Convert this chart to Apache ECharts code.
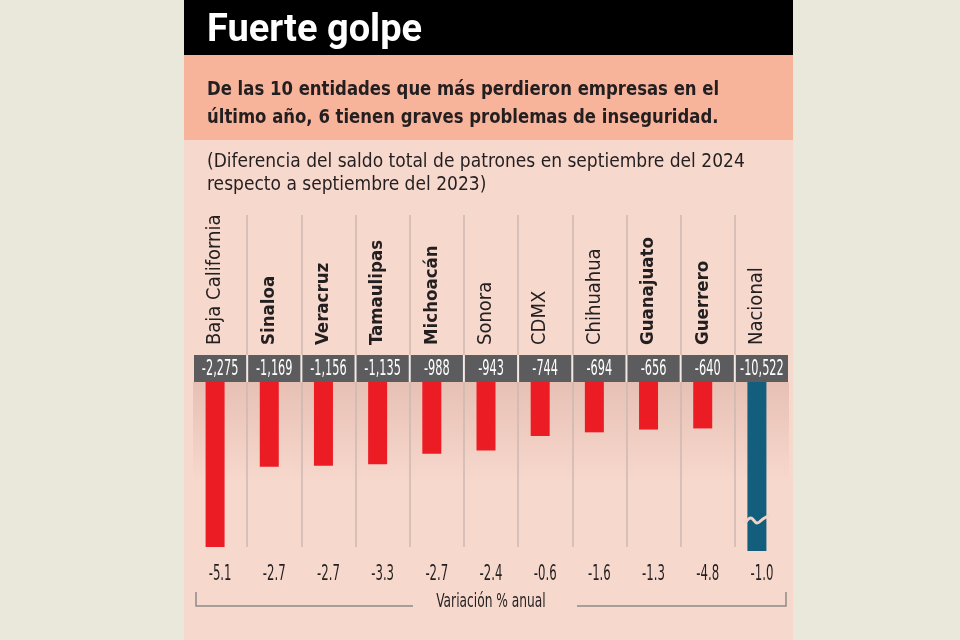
<!DOCTYPE html>
<html><head><meta charset="utf-8">
<script src="https://cdn.jsdelivr.net/npm/echarts@6/dist/echarts.min.js"></script>
<style>html,body{margin:0;padding:0;background:#e9e8da}#c{width:960px;height:640px}</style>
</head><body><div id="c"></div>
<script>
// ---- data ----
const categories = ['Baja California','Sinaloa','Veracruz','Tamaulipas','Michoacán','Sonora','CDMX','Chihuahua','Guanajuato','Guerrero','Nacional'];
const boldStates = ['Sinaloa','Veracruz','Tamaulipas','Michoacán','Guanajuato','Guerrero'];
const patronDiff = [-2275,-1169,-1156,-1135,-988,-943,-744,-694,-656,-640,-10522];
const annualVariation = [-5.1,-2.7,-2.7,-3.3,-2.7,-2.4,-0.6,-1.6,-1.3,-4.8,-1.0];
const titleText = 'Fuerte golpe';
const subtitleLines = ['De las 10 entidades que más perdieron empresas en el','último año, 6 tienen graves problemas de inseguridad.'];
const noteLines = ['(Diferencia del saldo total de patrones en septiembre del 2024','respecto a septiembre del 2023)'];
const axisTitle = 'Variación % anual';
const nationalName = 'Nacional';

// ---- styling ----
const NARROW = '"DejaVu Sans Condensed","DejaVu Sans",sans-serif';
const DARK = '#231f20';
const RED = '#ec1c24';
const TEAL = '#135e7c';
const SEP = '#cbb8b0';
const colGrid = {left:193, width:596};
const barGrid = {left:188, width:596};
const BAR_AXIS_MIN = -2330; // axis is broken: Nacional bar is clipped
const BAND_TOP = 355, BAND_H = 27;
const VAR_Y = 575;

function fmt(n){ return n.toLocaleString('en-US'); }

const chart = echarts.init(document.getElementById('c'), null, {renderer:'canvas'});

function catAxis(gridIndex, extra){
  return Object.assign({
    type:'category', gridIndex, data:categories, boundaryGap:true,
    axisLine:{show:false}, axisTick:{show:false}, axisLabel:{show:false},
    splitLine:{show:false}
  }, extra);
}
function valAxis(gridIndex, extra){
  return Object.assign({type:'value', gridIndex, show:false, min:0, max:1}, extra);
}
const sepLine = {show:true, interval:0, showMinLine:false, showMaxLine:false, lineStyle:{color:SEP, width:1.5}};

function bandItem(params, api){
  const x = api.coord([api.value(0), 0])[0];
  const w = api.size([1, 0])[0];
  return {type:'group', children:[
    {type:'rect', shape:{x:x - w/2 + 1, y:BAND_TOP, width:w - 2, height:BAND_H}, style:{fill:'#5c5c5e'}},
    {type:'text', x:x, y:BAND_TOP + BAND_H/2 + 1, scaleX:0.6,
      style:{text:fmt(api.value(1)), fill:'#ffffff', font:'21px ' + NARROW, align:'center', verticalAlign:'middle'}}
  ]};
}
function varItem(params, api){
  const x = api.coord([api.value(0), 0])[0];
  return {type:'text', x:x, y:VAR_Y, scaleX:0.62,
    style:{text:api.value(1).toFixed(1), fill:DARK, font:'21px ' + NARROW, align:'center', verticalAlign:'middle'}};
}

const option = {
  backgroundColor:'#e9e8da',
  animation:false,
  grid:[
    Object.assign({top:215, height:140}, colGrid),
    Object.assign({top:382, height:165}, colGrid),
    Object.assign({top:382, height:169}, barGrid),
    Object.assign({top:347, height:1}, barGrid),
    Object.assign({top:382, height:1}, colGrid),
    Object.assign({top:555, height:1}, colGrid)
  ],
  xAxis:[
    catAxis(0,{splitLine:sepLine}),
    catAxis(1,{splitLine:sepLine}),
    catAxis(2),
    catAxis(3,{position:'top', axisLabel:{show:true, interval:0, rotate:90, margin:2,
      formatter:(v)=> boldStates.indexOf(v) >= 0 ? '{b|'+v+'}' : '{r|'+v+'}',
      rich:{
        b:{fontFamily:NARROW, fontSize:18.5, fontWeight:'bold', color:DARK},
        r:{fontFamily:NARROW, fontSize:20, color:DARK}
      }}}),
    catAxis(4),
    catAxis(5)
  ],
  yAxis:[
    valAxis(0), valAxis(1),
    valAxis(2,{min:BAR_AXIS_MIN, max:0}),
    valAxis(3), valAxis(4), valAxis(5)
  ],
  series:[{
    type:'bar', xAxisIndex:2, yAxisIndex:2, barWidth:19, clip:true,
    data: patronDiff.map((v,i)=>({value:v, itemStyle:{color: categories[i]===nationalName ? TEAL : RED}}))
  },{
    type:'custom', xAxisIndex:4, yAxisIndex:4, renderItem:bandItem, clip:false, z:5,
    data: patronDiff.map((v,i)=>[i, v])
  },{
    type:'custom', xAxisIndex:5, yAxisIndex:5, renderItem:varItem, clip:false, z:5,
    data: annualVariation.map((v,i)=>[i, v])
  }]
};
chart.setOption(option);

// ---- decorations ----
const natIdx = categories.indexOf(nationalName);
const p = chart.convertToPixel({xAxisIndex:2, yAxisIndex:2}, [natIdx, BAR_AXIS_MIN]);
const cx = p[0], cy = p[1] - 31;

const graphics = [
  {type:'rect', z:-10, shape:{x:184, y:0, width:609, height:55}, style:{fill:'#000000'}},
  {type:'rect', z:-10, shape:{x:184, y:55, width:609, height:85}, style:{fill:'#f8b39b'}},
  {type:'rect', z:-10, shape:{x:184, y:140, width:609, height:500}, style:{fill:'#f7d8cd'}},
  {type:'rect', z:-8, shape:{x:193, y:382, width:596, height:100},
    style:{fill:new echarts.graphic.LinearGradient(0,0,0,1,[
      {offset:0, color:'rgba(190,130,115,0.28)'},{offset:1, color:'rgba(190,130,115,0)'}])}},
  {type:'rect', z:-7, shape:{x:194, y:BAND_TOP, width:594, height:BAND_H}, style:{fill:'#f3e9e5'}},
  {type:'text', z:5, x:207, y:31, style:{text:titleText, fill:'#ffffff', font:'bold 38px Roboto', textVerticalAlign:'middle'}},
  {type:'text', z:5, x:207, y:90, scaleX:0.94, style:{text:subtitleLines[0], fill:DARK, font:'bold 19.5px '+NARROW, textVerticalAlign:'middle'}},
  {type:'text', z:5, x:207, y:118, scaleX:0.94, style:{text:subtitleLines[1], fill:DARK, font:'bold 19.5px '+NARROW, textVerticalAlign:'middle'}},
  {type:'text', z:5, x:207, y:162, style:{text:noteLines[0], fill:DARK, font:'19px '+NARROW, textVerticalAlign:'middle'}},
  {type:'text', z:5, x:207, y:185, style:{text:noteLines[1], fill:DARK, font:'19px '+NARROW, textVerticalAlign:'middle'}},
  {type:'text', z:5, x:491, y:602, scaleX:0.68, style:{text:axisTitle, fill:DARK, font:'20px '+NARROW, textAlign:'center', textVerticalAlign:'middle'}},
  {type:'polyline', z:5, shape:{points:[[196,592],[196,606],[413,606]]}, style:{stroke:'#8f8a88', lineWidth:1.5, fill:null}},
  {type:'polyline', z:5, shape:{points:[[577,606],[786,606],[786,592]]}, style:{stroke:'#8f8a88', lineWidth:1.5, fill:null}},
  {type:'polyline', z:10, shape:{smooth:0.4, points:[[cx-12,cy+3],[cx-6,cy-2],[cx,cy+3],[cx+6,cy-1],[cx+13,cy-5]]},
    style:{stroke:'#f4d2c6', lineWidth:3, fill:null}}
];
chart.setOption({graphic:graphics});
</script>
</body></html>
